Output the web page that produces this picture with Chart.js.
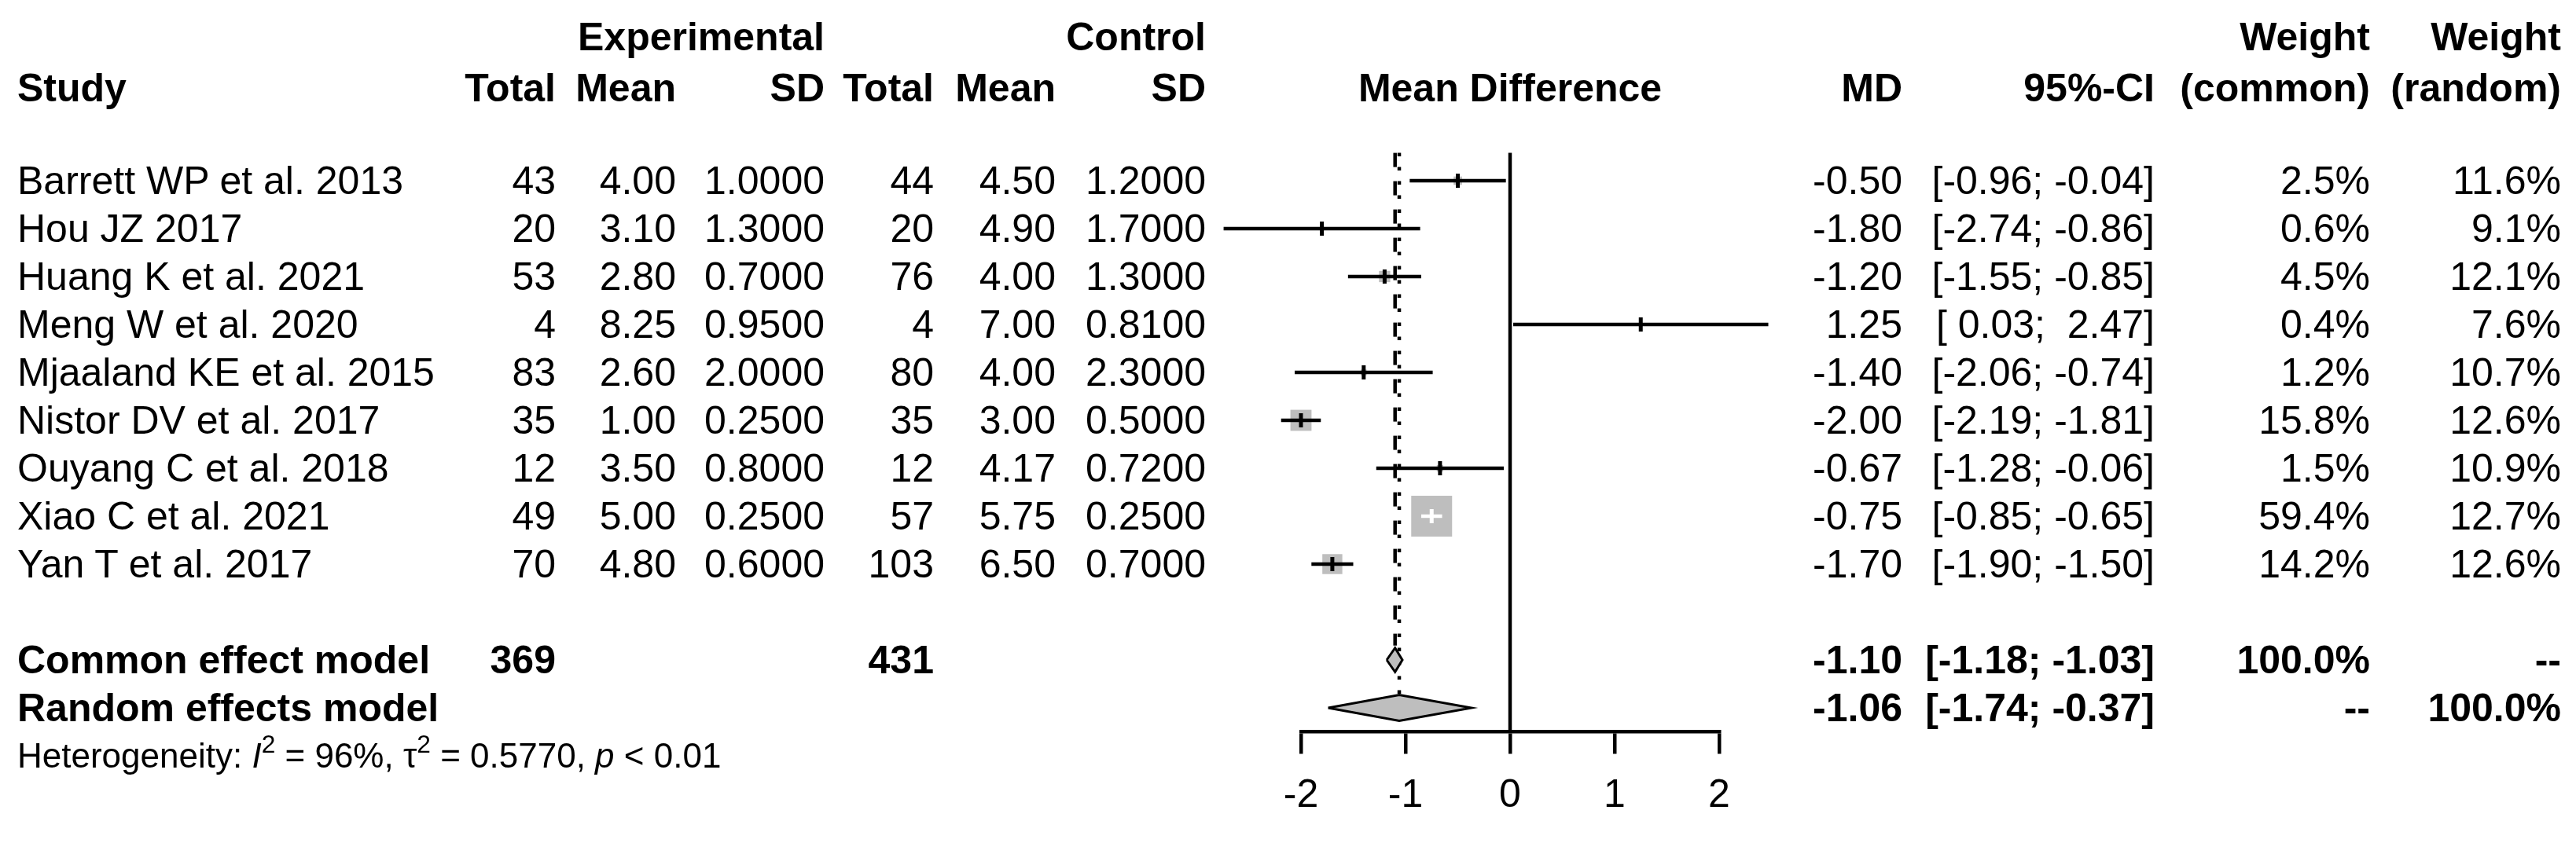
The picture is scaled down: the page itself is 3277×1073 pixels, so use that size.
<!DOCTYPE html>
<html><head><meta charset="utf-8">
<script src="https://cdn.jsdelivr.net/npm/chart.js@4.4.1/dist/chart.umd.min.js"></script>
<style>
html,body{margin:0;padding:0;background:#fff;}
#wrap{position:relative;width:3277px;height:1073px;overflow:hidden;background:#fff;}
#c{position:absolute;left:0;top:0;}
.t{position:absolute;font-family:"Liberation Sans",Arial,sans-serif;color:#000;white-space:pre;}
.b{font-weight:bold;}
sup{font-size:0.72em;line-height:0;vertical-align:0.6em;}
</style></head><body>
<div id="wrap"><canvas id="c" width="3277" height="1073"></canvas><div id="txt"></div></div>
<script>
// ---------- data ----------
const studies = ["Barrett WP et al. 2013","Hou JZ 2017","Huang K et al. 2021","Meng W et al. 2020","Mjaaland KE et al. 2015","Nistor DV et al. 2017","Ouyang C et al. 2018","Xiao C et al. 2021","Yan T et al. 2017"];
const expTotal = [43,20,53,4,83,35,12,49,70];
const expMean  = [4.00,3.10,2.80,8.25,2.60,1.00,3.50,5.00,4.80];
const expSD    = [1.0,1.3,0.7,0.95,2.0,0.25,0.8,0.25,0.6];
const ctlTotal = [44,20,76,4,80,35,12,57,103];
const ctlMean  = [4.50,4.90,4.00,7.00,4.00,3.00,4.17,5.75,6.50];
const ctlSD    = [1.2,1.7,1.3,0.81,2.3,0.5,0.72,0.25,0.7];
const md       = [-0.50,-1.80,-1.20,1.25,-1.40,-2.00,-0.67,-0.75,-1.70];
const ciLow    = [-0.96,-2.74,-1.55,0.03,-2.06,-2.19,-1.28,-0.85,-1.90];
const ciHigh   = [-0.04,-0.86,-0.85,2.47,-0.74,-1.81,-0.06,-0.65,-1.50];
const wCommon  = [2.5,0.6,4.5,0.4,1.2,15.8,1.5,59.4,14.2];
const wRandom  = [11.6,9.1,12.1,7.6,10.7,12.6,10.9,12.7,12.6];
const pooledLabels = ["Common effect model","Random effects model"];
const pooledMD   = [-1.10,-1.06];
const pooledLow  = [-1.18,-1.74];
const pooledHigh = [-1.03,-0.37];
const pooledExpTotal = [369,null];
const pooledCtlTotal = [431,null];
const pooledWCommon = ["100.0%","--"];
const pooledWRandom = ["--","100.0%"];
const xTicks = [-2,-1,0,1,2];
const hetText = 'Heterogeneity: <i>I</i><sup>2</sup> = 96%, \u03c4<sup>2</sup> = 0.5770, <i>p</i> &lt; 0.01';

// ---------- layout / style ----------
const W = 3277, H = 1073;
const FONT = '"Liberation Sans", Arial, sans-serif';
const ROW_TOP = 0.42, ROW_BOTTOM = 12.5;
const COMMON_ROW = 11, RANDOM_ROW = 12, HET_ROW = 13;
const BOX_MAX = 52;
const LW = 4.5;
const maxW = Math.max(...wCommon);
const boxSide = i => BOX_MAX * Math.sqrt(wCommon[i] / maxW);
const ciInside = (i, chart) => {
  const xs = chart.scales.x;
  const w = Math.abs(xs.getPixelForValue(ciHigh[i]) - xs.getPixelForValue(ciLow[i]));
  return w <= boxSide(i);
};

const datasets = [];
// reference line at 0
datasets.push({type:'line', data:[{x:0,y:ROW_TOP},{x:0,y:ROW_BOTTOM}], borderColor:'#000', borderWidth:LW, pointRadius:0, clip:false, order:5});
// common effect line (dashed)
datasets.push({type:'line', data:[{x:pooledMD[0],y:ROW_TOP},{x:pooledMD[0],y:COMMON_ROW-0.3}], borderColor:'#000', borderWidth:LW, borderDash:[18,18], borderCapStyle:'butt', pointRadius:0, clip:false, order:5});
// random effects line (dotted)
datasets.push({type:'line', data:[{x:pooledMD[1],y:ROW_TOP},{x:pooledMD[1],y:RANDOM_ROW-0.27}], borderColor:'#000', borderWidth:LW, borderDash:[4.5,13.5], borderCapStyle:'butt', pointRadius:0, clip:false, order:5});
// boxes
datasets.push({type:'scatter', data: md.map((v,i)=>({x:v,y:i+1})), pointStyle:'rect',
  pointRadius: ctx => boxSide(ctx.dataIndex)/Math.SQRT2, pointBackgroundColor:'#bebebe', pointBorderWidth:0, pointBorderColor:'#bebebe', clip:false, order:3});
// CI lines
studies.forEach((s,i)=>{
  datasets.push({type:'line', data:[{x:ciLow[i],y:i+1},{x:ciHigh[i],y:i+1}],
    borderColor: ctx => ciInside(i, ctx.chart) ? '#fff' : '#000', borderWidth:LW, borderCapStyle:'butt', pointRadius:0, clip:false, order:2});
});
// estimate ticks
datasets.push({type:'scatter', data: md.map((v,i)=>({x:v,y:i+1})), pointStyle:'line', pointRotation:90, pointRadius:9,
  pointBorderWidth:5, pointBorderColor: ctx => ciInside(ctx.dataIndex, ctx.chart) ? '#fff' : '#000', clip:false, order:1});
// diamonds
const diamondH = [0.25, 0.27];
[COMMON_ROW, RANDOM_ROW].forEach((row,k)=>{
  datasets.push({type:'line', data:[
      {x:pooledLow[k],y:row},{x:pooledMD[k],y:row-diamondH[k]},{x:pooledHigh[k],y:row},{x:pooledMD[k],y:row+diamondH[k]},{x:pooledLow[k],y:row}],
    borderColor:'#000', borderWidth:3, backgroundColor:'#bebebe', fill:'shape', tension:0, pointRadius:0, clip:false, order:4});
});

const chart = new Chart(document.getElementById('c'), {
  type:'scatter',
  data:{datasets},
  options:{
    responsive:false, animation:false, devicePixelRatio:1, events:[],
    layout:{padding:{left:1655, right:W-2187, top:194.6, bottom:0}},
    plugins:{legend:{display:false}, tooltip:{enabled:false}},
    scales:{
      x:{type:'linear', position:'bottom', min:-2, max:2,
        afterFit: s => { s.height = H - 931.5; },
        afterBuildTicks: s => { s.ticks = xTicks.map(v=>({value:v})); },
        ticks:{font:{family:FONT, size:50}, color:'#000', padding:24, maxRotation:0, autoSkip:false},
        grid:{drawOnChartArea:false, drawTicks:true, tickLength:28, tickWidth:LW, tickColor:'#000', lineWidth:LW, color:'#000'},
        border:{display:true, color:'#000', width:LW}},
      y:{type:'linear', display:false, reverse:true, min:ROW_TOP, max:ROW_BOTTOM}
    }
  }
});

// ---------- text ----------
const txt = document.getElementById('txt');
function put(s, x, y, opt={}) {
  const align = opt.align || 'right', size = opt.size || 50;
  const d = document.createElement('div');
  d.className = 't' + (opt.bold ? ' b' : '');
  d.style.fontSize = size + 'px';
  d.style.lineHeight = (size*1.2) + 'px';
  d.style.top = (y - size*0.6) + 'px';
  if (align === 'right') d.style.right = (W - x) + 'px';
  else if (align === 'left') d.style.left = x + 'px';
  else { d.style.left = (x - 600) + 'px'; d.style.width = '1200px'; d.style.textAlign = 'center'; }
  if (opt.html) d.innerHTML = s; else d.textContent = s;
  txt.appendChild(d);
}
const COL = {study:22, eT:707, eM:860, eS:1049, cT:1188, cM:1343, cS:1534, md:2420, ci:2741, wc:3015, wr:3258};
const fmtCI = (a,b) => '[' + (a<0?'':' ') + a.toFixed(2) + ';' + (b<0?' ':'  ') + b.toFixed(2) + ']';
const H1 = 47, H2 = 112;
put('Experimental', COL.eS, H1, {bold:true});
put('Control', COL.cS, H1, {bold:true});
put('Weight', COL.wc, H1, {bold:true});
put('Weight', COL.wr, H1, {bold:true});
put('Study', COL.study, H2, {bold:true, align:'left'});
put('Total', COL.eT, H2, {bold:true});
put('Mean', COL.eM, H2, {bold:true});
put('SD', COL.eS, H2, {bold:true});
put('Total', COL.cT, H2, {bold:true});
put('Mean', COL.cM, H2, {bold:true});
put('SD', COL.cS, H2, {bold:true});
put('Mean Difference', chart.scales.x.getPixelForValue(0), H2, {bold:true, align:'center'});
put('MD', COL.md, H2, {bold:true});
put('95%-CI', COL.ci, H2, {bold:true});
put('(common)', COL.wc, H2, {bold:true});
put('(random)', COL.wr, H2, {bold:true});

const ys = chart.scales.y;
studies.forEach((s,i)=>{
  const y = ys.getPixelForValue(i+1);
  put(s, COL.study, y, {align:'left'});
  put(String(expTotal[i]), COL.eT, y);
  put(expMean[i].toFixed(2), COL.eM, y);
  put(expSD[i].toFixed(4), COL.eS, y);
  put(String(ctlTotal[i]), COL.cT, y);
  put(ctlMean[i].toFixed(2), COL.cM, y);
  put(ctlSD[i].toFixed(4), COL.cS, y);
  put(md[i].toFixed(2), COL.md, y);
  put(fmtCI(ciLow[i], ciHigh[i]), COL.ci, y);
  put(wCommon[i].toFixed(1) + '%', COL.wc, y);
  put(wRandom[i].toFixed(1) + '%', COL.wr, y);
});
[COMMON_ROW, RANDOM_ROW].forEach((row,k)=>{
  const y = ys.getPixelForValue(row);
  put(pooledLabels[k], COL.study, y, {align:'left', bold:true});
  if (pooledExpTotal[k] !== null) put(String(pooledExpTotal[k]), COL.eT, y, {bold:true});
  if (pooledCtlTotal[k] !== null) put(String(pooledCtlTotal[k]), COL.cT, y, {bold:true});
  put(pooledMD[k].toFixed(2), COL.md, y, {bold:true});
  put(fmtCI(pooledLow[k], pooledHigh[k]), COL.ci, y, {bold:true});
  put(pooledWCommon[k], COL.wc, y, {bold:true});
  put(pooledWRandom[k], COL.wr, y, {bold:true});
});
put(hetText, COL.study, ys.getPixelForValue(HET_ROW), {align:'left', size:44, html:true});
</script>
</body></html>
